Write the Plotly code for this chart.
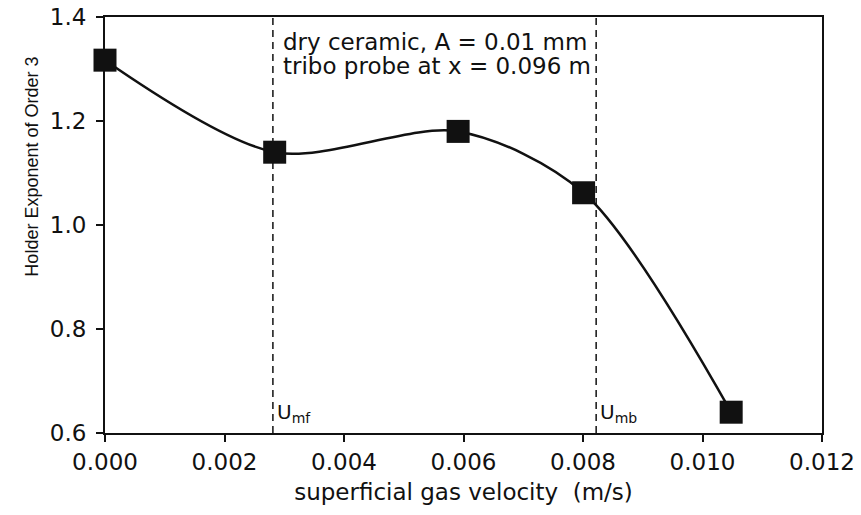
import plotly.graph_objects as go

# superficial gas velocity (m/s) and Holder exponent of order 3
velocity = [0.0, 0.00284, 0.00591, 0.00801, 0.01048]
holder_exp = [1.317, 1.140, 1.180, 1.062, 0.640]

# characteristic velocities marked by dashed lines
u_mf = 0.00281
u_mb = 0.00822

x_ticks = [0.000, 0.002, 0.004, 0.006, 0.008, 0.010, 0.012]
x_tick_text = ["0.000", "0.002", "0.004", "0.006", "0.008", "0.010", "0.012"]
y_ticks = [0.6, 0.8, 1.0, 1.2, 1.4]
y_tick_text = ["0.6", "0.8", "1.0", "1.2", "1.4"]

note_lines = ["dry ceramic, A = 0.01 mm", "tribo probe at x = 0.096 m"]

ink = "#111111"
wide_font = "DejaVu Sans, Verdana, sans-serif"
narrow_font = "Liberation Sans"

fig = go.Figure()

fig.add_trace(go.Scatter(
    x=velocity,
    y=holder_exp,
    mode="lines+markers",
    line=dict(color=ink, width=2.5, shape="spline", smoothing=0.85),
    marker=dict(symbol="square", size=23, color=ink),
    showlegend=False,
    cliponaxis=False,
))

for xv in (u_mf, u_mb):
    fig.add_shape(
        type="line", xref="x", yref="paper",
        x0=xv, x1=xv, y0=0, y1=1,
        line=dict(color=ink, width=1.5, dash="7px,5px"),
        layer="below",
    )

# two-line note beside the U_mf line
for line_text, ypos in zip(note_lines, [0.940, 0.882]):
    fig.add_annotation(
        x=u_mf, y=ypos, xref="x", yref="paper",
        xanchor="left", yanchor="middle", xshift=8,
        showarrow=False, text=line_text,
        font=dict(family=wide_font, size=23, color=ink),
    )

for xv, label in ((u_mf, "U<sub>mf</sub>"), (u_mb, "U<sub>mb</sub>")):
    fig.add_annotation(
        x=xv, y=0.6, xref="x", yref="y",
        xanchor="left", yanchor="bottom", xshift=2, yshift=5,
        showarrow=False, text=label,
        font=dict(family=wide_font, size=20, color=ink),
    )

# y-axis title placed beside the upper part of the axis
fig.add_annotation(
    x=-0.102, y=0.64, xref="paper", yref="paper",
    xanchor="center", yanchor="middle", textangle=-90,
    showarrow=False, text="Holder Exponent of Order 3",
    font=dict(family=narrow_font, size=18, color=ink),
)

fig.update_layout(
    width=861, height=515,
    margin=dict(l=105, r=39, t=17, b=82, autoexpand=False),
    paper_bgcolor="white", plot_bgcolor="white",
    font=dict(family=wide_font, size=20, color=ink),
    xaxis=dict(
        range=[0, 0.012], automargin=False,
        tickvals=x_ticks, ticktext=x_tick_text,
        ticks="outside", ticklen=7, tickwidth=1.5, tickcolor=ink,
        showline=True, linecolor=ink, linewidth=2, mirror=True,
        showgrid=False, zeroline=False,
        tickfont=dict(family=wide_font, size=23),
        title=dict(text="superficial gas velocity  (m/s)",
                   font=dict(family=wide_font, size=23), standoff=10),
    ),
    yaxis=dict(
        range=[0.6, 1.4], automargin=False,
        tickvals=y_ticks, ticktext=y_tick_text,
        ticks="outside", ticklen=7, tickwidth=1.5, tickcolor=ink,
        showline=True, linecolor=ink, linewidth=2, mirror=True,
        showgrid=False, zeroline=False,
        tickfont=dict(family=wide_font, size=23),
        ticklabelstandoff=5,
    ),
)

fig.write_html("out.html")
